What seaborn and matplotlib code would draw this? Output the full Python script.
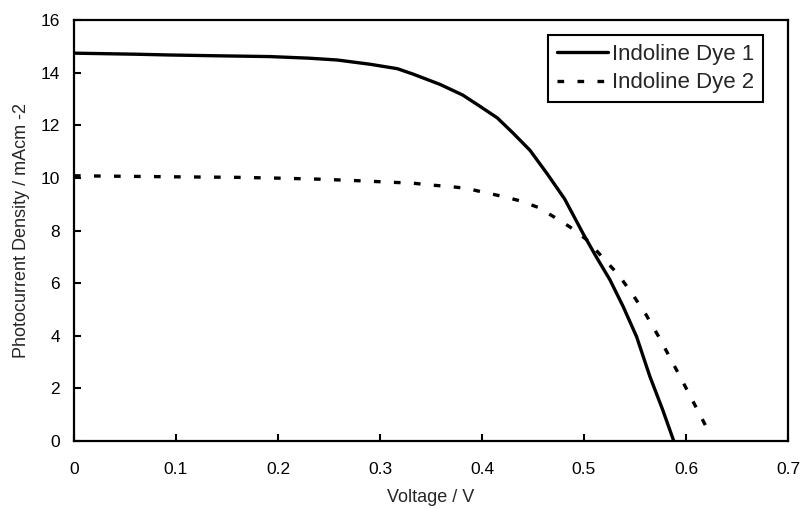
import pandas as pd
import matplotlib
matplotlib.use('Agg')
import matplotlib.pyplot as plt
import seaborn as sns

# --- data ---
v_dye1 = [0.0, 0.03, 0.06, 0.094, 0.14, 0.192, 0.23, 0.258, 0.29, 0.317, 0.332,
          0.359, 0.381, 0.398, 0.415, 0.430, 0.447, 0.464, 0.481, 0.499, 0.512,
          0.5255, 0.5385, 0.5516, 0.5647, 0.577, 0.588]
j_dye1 = [14.74, 14.72, 14.70, 14.67, 14.64, 14.61, 14.55, 14.48, 14.32, 14.15, 13.95,
          13.55, 13.15, 12.72, 12.28, 11.72, 11.05, 10.15, 9.20, 7.89, 7.00,
          6.12, 5.10, 3.96, 2.44, 1.20, 0.0]

v_dye2 = [0.0, 0.05, 0.10, 0.16, 0.20, 0.241, 0.28, 0.313, 0.332, 0.349, 0.369,
          0.385, 0.403, 0.421, 0.437, 0.455, 0.470, 0.486, 0.503, 0.519, 0.534,
          0.548, 0.561, 0.573, 0.584, 0.597, 0.608, 0.619, 0.622]
j_dye2 = [10.08, 10.06, 10.04, 10.02, 9.99, 9.95, 9.89, 9.83, 9.80, 9.73, 9.67,
          9.60, 9.44, 9.29, 9.13, 8.88, 8.53, 8.14, 7.64, 6.94, 6.31,
          5.55, 4.79, 3.98, 3.19, 2.24, 1.42, 0.60, 0.30]

label_1 = 'Indoline Dye 1'
label_2 = 'Indoline Dye 2'

x_ticks = [0, 0.1, 0.2, 0.3, 0.4, 0.5, 0.6, 0.7]
x_tick_labels = ['0', '0.1', '0.2', '0.3', '0.4', '0.5', '0.6', '0.7']
y_ticks = [0, 2, 4, 6, 8, 10, 12, 14, 16]

# --- style ---
sns.set_style('white')
plt.rcParams['font.family'] = ['Liberation Sans', 'DejaVu Sans']

fig = plt.figure(figsize=(8, 5.09), dpi=100)
ax = fig.add_axes([0.0925, 0.1336, 0.8925, 0.8271])

df1 = pd.DataFrame({'V': v_dye1, 'J': j_dye1})
df2 = pd.DataFrame({'V': v_dye2, 'J': j_dye2})

sns.lineplot(data=df1, x='V', y='J', ax=ax, color='black', linewidth=2.4,
             label=label_1, sort=False)
sns.lineplot(data=df2, x='V', y='J', ax=ax, color='black', linewidth=2.4,
             linestyle=(0, (2, 4)), label=label_2, sort=False)

ax.set_xlim(0, 0.7)
ax.set_ylim(0, 16)
ax.set_xticks(x_ticks)
ax.set_xticklabels(x_tick_labels)
ax.set_yticks(y_ticks)
ax.tick_params(direction='in', length=5, width=1.5, labelsize=12.5,
               colors='black', bottom=True, left=True)
ax.tick_params(axis='x', pad=15)
ax.tick_params(axis='y', pad=10)
for s in ax.spines.values():
    s.set_linewidth(1.6)
    s.set_color('black')

ax.set_xlabel('Voltage / V', fontsize=13, labelpad=9)
ax.set_ylabel('Photocurrent Density / mAcm -2', fontsize=13, labelpad=8)

leg = ax.legend(loc='upper right', bbox_to_anchor=(0.965, 0.964), fontsize=16,
                frameon=True, fancybox=False, handlelength=2.3, handletextpad=0.2,
                borderpad=0.38, labelspacing=0.35, borderaxespad=0)
leg.get_frame().set_edgecolor('black')
leg.get_frame().set_linewidth(1.5)
leg.get_frame().set_alpha(1)

fig.savefig('out.png', dpi=100)
